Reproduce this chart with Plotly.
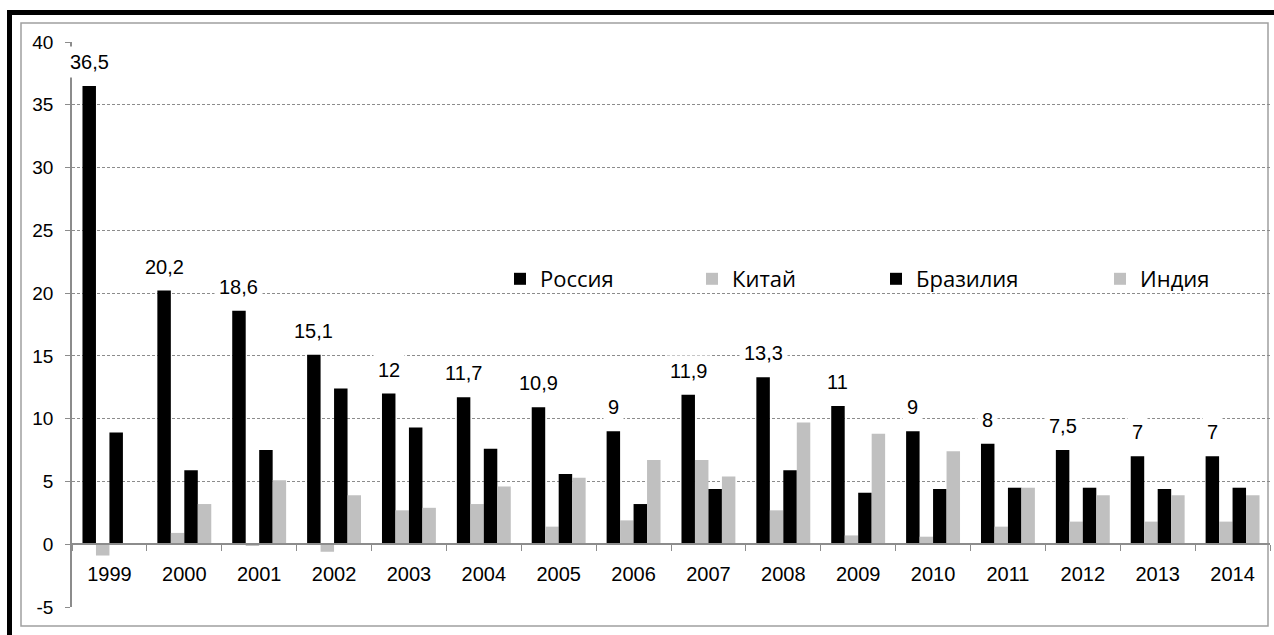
import plotly.graph_objects as go

years = [str(y) for y in range(1999, 2015)]
russia = [36.5, 20.2, 18.6, 15.1, 12, 11.7, 10.9, 9, 11.9, 13.3, 11, 9, 8, 7.5, 7, 7]
china = [-0.9, 0.9, -0.1, -0.6, 2.7, 3.2, 1.4, 1.9, 6.7, 2.7, 0.7, 0.6, 1.4, 1.8, 1.8, 1.8]
brazil = [8.9, 5.9, 7.5, 12.4, 9.3, 7.6, 5.6, 3.2, 4.4, 5.9, 4.1, 4.4, 4.5, 4.5, 4.4, 4.5]
india = [None, 3.2, 5.1, 3.9, 2.9, 4.6, 5.3, 6.7, 5.4, 9.7, 8.8, 7.4, 4.5, 3.9, 3.9, 3.9]
series_names = ["Россия", "Китай", "Бразилия", "Индия"]
series_colors = ["#000000", "#c0c0c0", "#000000", "#c0c0c0"]
y_ticks = [-5, 0, 5, 10, 15, 20, 25, 30, 35, 40]
y_tick_labels = ["-5", "0", "5", "10", "15", "20", "25", "30", "35", "40"]

W, H = 1274, 635
ML, MR, MT, MB = 72, 4, 42, 28
PW = W - ML - MR
PH = H - MT - MB
YMIN, YMAX = -5, 40
BARGAP = 0.28


def px_x(px):
    return (px - ML) / PW


def px_y(py):
    return (H - MB - py) / PH


fig = go.Figure()
legend_ids = ["legend", "legend2", "legend3", "legend4"]
for name, vals, col, lg in zip(series_names, [russia, china, brazil, india], series_colors, legend_ids):
    fig.add_trace(go.Bar(x=years, y=vals, name=name, marker=dict(color=col, line=dict(width=0)),
                         legend=lg, showlegend=True))

# data labels for Russia
w = (1 - BARGAP) / 4
for i, v in enumerate(russia):
    fig.add_annotation(x=i - 1.5 * w, y=v, xref="x", yref="y",
                       text=f"{v:g}".replace(".", ","), showarrow=False,
                       yanchor="middle", yshift=24,
                       font=dict(family="Liberation Sans, Arial", size=20, color="#000"),
                       bgcolor="white", borderpad=4)

text_starts = [540, 732, 916, 1140]
legend_layout = {}
for lg, ts in zip(legend_ids, text_starts):
    legend_layout[lg] = dict(x=px_x(ts - 40), y=px_y(279), xanchor="left", yanchor="middle",
                             orientation="h", bgcolor="rgba(0,0,0,0)",
                             font=dict(family="Open Sans", size=22, color="#000"))

shapes = [
    # outer gray frame
    dict(type="rect", xref="paper", yref="paper", x0=px_x(21), x1=px_x(1268), y0=px_y(626), y1=px_y(23),
         line=dict(color="#a0a0a0", width=1.5), layer="below"),
    # black frame top and left
    dict(type="rect", xref="paper", yref="paper", x0=px_x(7), x1=px_x(1274), y0=px_y(15), y1=px_y(10),
         line=dict(width=0), fillcolor="#000"),
    dict(type="rect", xref="paper", yref="paper", x0=px_x(7), x1=px_x(12), y0=px_y(635), y1=px_y(10),
         line=dict(width=0), fillcolor="#000"),
]

fig.update_layout(
    width=W, height=H,
    margin=dict(l=ML, r=MR, t=MT, b=MB, autoexpand=False),
    paper_bgcolor="white", plot_bgcolor="white",
    barmode="group", bargap=BARGAP, bargroupgap=0,
    showlegend=True,
    shapes=shapes,
    **legend_layout,
)
fig.update_xaxes(type="category", anchor="free", position=(0 - YMIN) / (YMAX - YMIN),
                 range=[-0.5, len(years) - 0.5], automargin=False,
                 showline=True, linecolor="#8c8c8c", linewidth=1.5,
                 ticks="outside", tickson="boundaries", ticklen=6, tickcolor="#8c8c8c",
                 ticklabelstandoff=12,
                 tickfont=dict(family="Liberation Sans, Arial", size=20, color="#000"),
                 showgrid=False, zeroline=False)
fig.update_yaxes(range=[YMIN, YMAX], tickmode="array", tickvals=y_ticks, ticktext=y_tick_labels,
                 automargin=False,
                 showline=True, linecolor="#8c8c8c", linewidth=1.5,
                 ticks="outside", ticklen=5, tickcolor="#8c8c8c",
                 ticklabelstandoff=8,
                 tickfont=dict(family="Liberation Sans, Arial", size=19, color="#000"),
                 showgrid=True, gridcolor="#8c8c8c", gridwidth=1, griddash="3px,2px",
                 zeroline=False)

fig.write_html("out.html", config={"displayModeBar": False},
               post_script="document.body.style.margin='0';document.body.style.overflow='hidden';")
